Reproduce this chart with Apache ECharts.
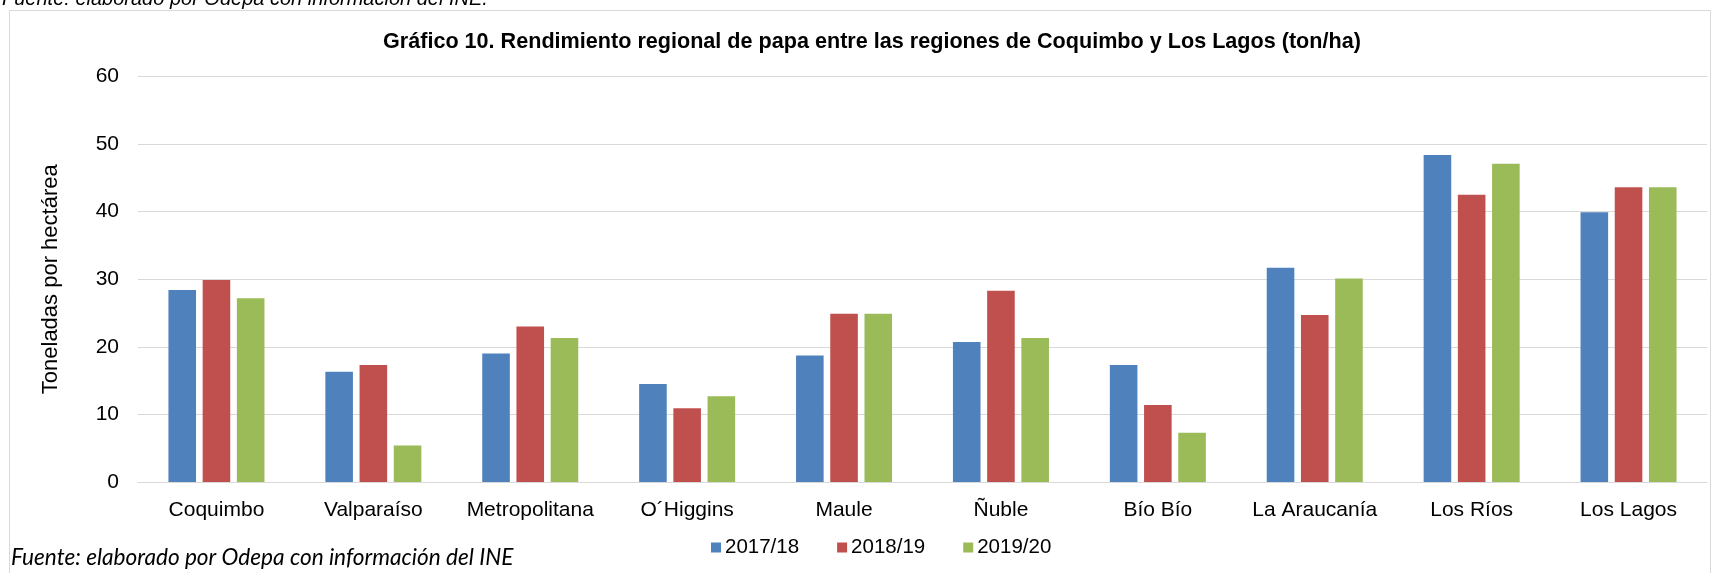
<!DOCTYPE html>
<html>
<head>
<meta charset="utf-8">
<script src="https://cdn.jsdelivr.net/npm/echarts@6/dist/echarts.min.js"></script>
<style>
html,body{margin:0;padding:0;background:#fff;}
#chart{width:1717px;height:573px;}
</style>
</head>
<body>
<div id="chart"></div>
<script>
const categories = ['Coquimbo','Valparaíso','Metropolitana','O´Higgins','Maule','Ñuble','Bío Bío','La Araucanía','Los Ríos','Los Lagos'];
const seriesNames = ['2017/18','2018/19','2019/20'];
const values2017 = [28.4, 16.3, 19.0, 14.5, 18.7, 20.7, 17.3, 31.7, 48.4, 39.9];
const values2018 = [29.9, 17.3, 23.0, 10.9, 24.9, 28.3, 11.4, 24.7, 42.5, 43.6];
const values2019 = [27.2, 5.4, 21.3, 12.7, 24.9, 21.3, 7.3, 30.1, 47.1, 43.6];
const yTicks = [0, 10, 20, 30, 40, 50, 60];
const titleText = 'Gráfico 10. Rendimiento regional de papa entre las regiones de Coquimbo y Los Lagos (ton/ha)';
const yName = 'Toneladas por hectárea';
const sourceText = 'Fuente: elaborado por Odepa con información del INE';
const topText = 'Fuente: elaborado por Odepa con información del INE.';

const colors = ['#4F81BD', '#C0504D', '#9BBB59'];
const FONT = "'Liberation Sans', Arial, sans-serif";

const chart = echarts.init(document.getElementById('chart'), null, {renderer: 'canvas'});
const allValues = [values2017, values2018, values2019];

chart.setOption({
  animation: false,
  color: colors,
  title: {
    text: titleText,
    left: 383,
    top: 31,
    padding: 0,
    textStyle: {fontFamily: FONT, fontSize: 21.6, fontWeight: 'bold', color: '#000'}
  },
  graphic: [
    {type: 'rect', shape: {x: 9.5, y: 10.5, width: 1701, height: 600}, style: {fill: 'none', stroke: '#d9d9d9', lineWidth: 1}, z: -1},
    {type: 'text', x: 2, y: 9, style: {text: topText, fontFamily: FONT, fontStyle: 'italic', fontSize: 20, fill: '#000', textVerticalAlign: 'bottom'}},
    {type: 'text', x: 11, y: 569, style: {text: sourceText, fontFamily: "Lato, 'Open Sans', sans-serif", fontStyle: 'italic', fontSize: 22.6, fill: '#000', textVerticalAlign: 'bottom'}}
  ],
  legend: {
    data: seriesNames,
    left: 711,
    top: 537,
    padding: 0,
    icon: 'rect',
    itemWidth: 10,
    itemHeight: 10,
    itemGap: 38,
    textStyle: {fontFamily: FONT, fontSize: 20.5, color: '#000', padding: [0, 0, 0, -1]}
  },
  grid: {left: 138, right: 10, top: 76.5, bottom: 91, containLabel: false},
  xAxis: {
    type: 'category',
    data: categories,
    axisTick: {show: false},
    axisLine: {lineStyle: {color: '#d9d9d9', width: 1}},
    axisLabel: {fontFamily: FONT, fontSize: 21, color: '#000', margin: 18, interval: 0}
  },
  yAxis: {
    type: 'value',
    min: yTicks[0],
    max: yTicks[yTicks.length - 1],
    interval: 10,
    name: yName,
    nameLocation: 'middle',
    nameGap: 76,
    nameTextStyle: {fontFamily: FONT, fontSize: 22, color: '#000'},
    axisLine: {show: false},
    axisTick: {show: false},
    axisLabel: {fontFamily: FONT, fontSize: 21, color: '#000', margin: 19},
    splitLine: {lineStyle: {color: '#d9d9d9', width: 1}}
  },
  series: seriesNames.map((name, i) => ({
    name: name,
    type: 'bar',
    data: allValues[i],
    barGap: '24%',
    barCategoryGap: '38.8%',
    itemStyle: {color: colors[i]}
  }))
});
</script>
</body>
</html>
